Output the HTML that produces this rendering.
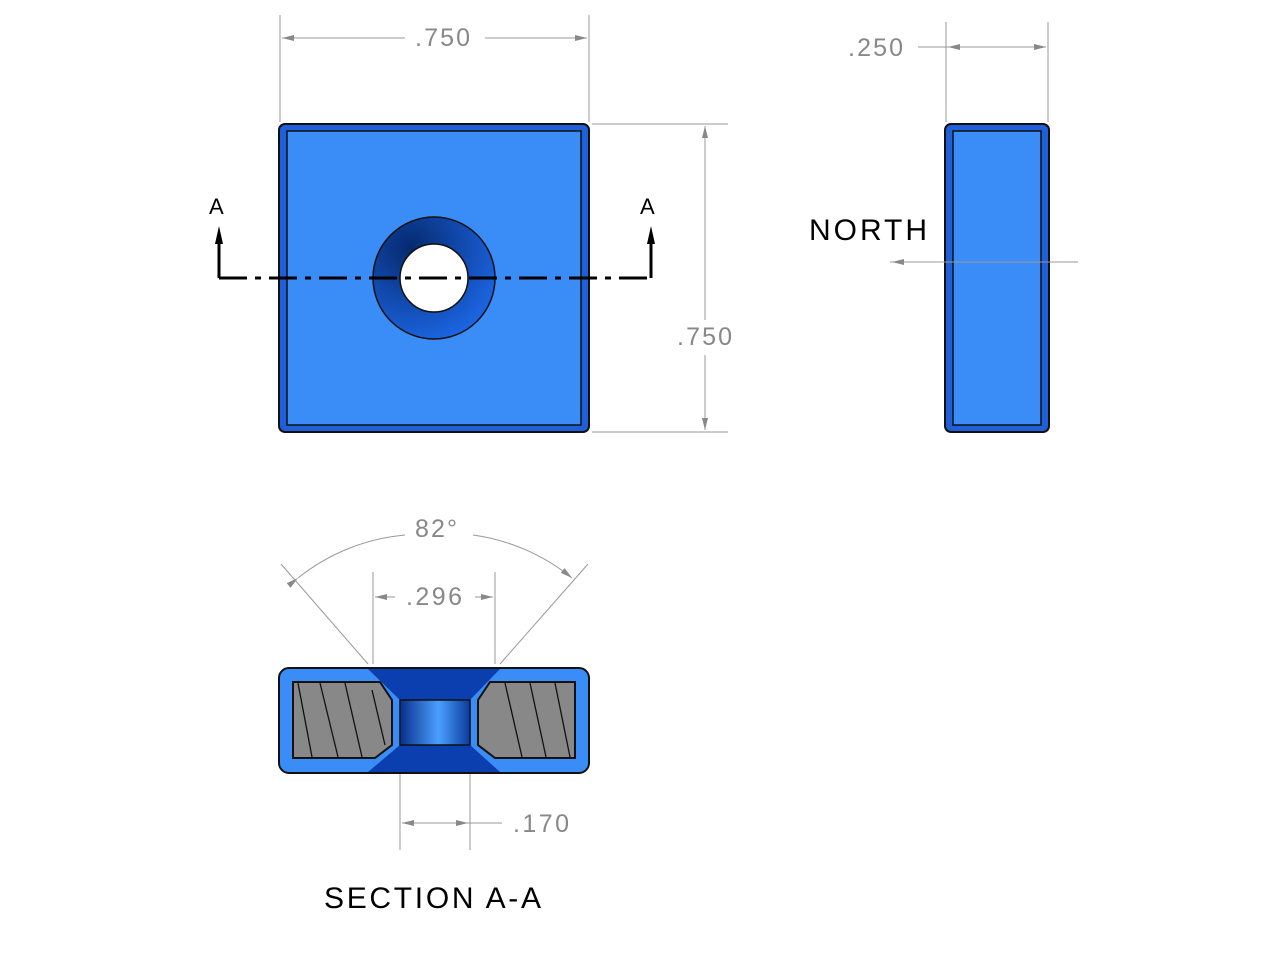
<!DOCTYPE html>
<html><head><style>body{margin:0;background:#fff}svg{display:block}text{font-family:"Liberation Sans",sans-serif}</style></head><body>
<svg width="1280" height="960" viewBox="0 0 1280 960">
<defs>
<radialGradient id="ring" cx="0.3" cy="0.25" r="0.9"><stop offset="0" stop-color="#062a70"/><stop offset="1" stop-color="#1e6cf0"/></radialGradient>
<linearGradient id="bore" x1="0" x2="1"><stop offset="0" stop-color="#0a2f8a"/><stop offset="0.55" stop-color="#4aa0ff"/><stop offset="1" stop-color="#0b3a9e"/></linearGradient>
<marker id="ar" markerWidth="12" markerHeight="6" refX="12" refY="3" orient="auto"><path d="M0,0 L12,3 L0,6z" fill="#888"/></marker>
</defs>
<g stroke="#999" stroke-width="1" fill="none">
<line x1="280" y1="15" x2="280" y2="122"/><line x1="589" y1="15" x2="589" y2="122"/>
<line x1="405" y1="38" x2="282" y2="38" marker-end="url(#ar)"/>
<line x1="485" y1="38" x2="587" y2="38" marker-end="url(#ar)"/>
<line x1="592" y1="124" x2="728" y2="124"/><line x1="592" y1="432" x2="728" y2="432"/>
<line x1="705" y1="320" x2="705" y2="126" marker-end="url(#ar)"/>
<line x1="705" y1="355" x2="705" y2="430" marker-end="url(#ar)"/>
<line x1="946" y1="22" x2="946" y2="122"/><line x1="1048" y1="22" x2="1048" y2="122"/>
<line x1="918" y1="47" x2="1046" y2="47" marker-end="url(#ar)"/>
<line x1="1000" y1="47" x2="948" y2="47" marker-end="url(#ar)"/>
<path d="M298,578 A200,200 0 0 1 405,535" marker-start="url(#ar)"/>
<path d="M473,535 A200,200 0 0 1 572,578" marker-end="url(#ar)"/>
<line x1="281" y1="564" x2="368" y2="664"/><line x1="588" y1="564" x2="500" y2="664"/>
<line x1="373" y1="572" x2="373" y2="664"/><line x1="495" y1="572" x2="495" y2="664"/>
<line x1="395" y1="597" x2="375" y2="597" marker-end="url(#ar)"/>
<line x1="475" y1="597" x2="493" y2="597" marker-end="url(#ar)"/>
<line x1="400" y1="750" x2="400" y2="850"/><line x1="470" y1="750" x2="470" y2="850"/>
<line x1="440" y1="823" x2="402" y2="823" marker-end="url(#ar)"/>
<line x1="430" y1="823" x2="468" y2="823" marker-end="url(#ar)"/>
<line x1="468" y1="823" x2="502" y2="823"/>
</g>
<g fill="#888" font-size="25"><text x="415" y="46" textLength="55">.750</text><text x="677" y="345" textLength="55">.750</text><text x="848" y="56" textLength="55">.250</text><text x="415" y="537" textLength="42">82°</text><text x="406" y="605" textLength="56">.296</text><text x="513" y="832" textLength="56">.170</text></g>
<!-- front -->
<rect x="279" y="124" width="310" height="308" rx="6" fill="#1f5fd8" stroke="#111" stroke-width="2"/>
<rect x="287" y="131" width="294" height="294" fill="#3a8cf6" stroke="#111" stroke-width="1.5"/>
<circle cx="434" cy="278" r="61" fill="url(#ring)" stroke="#111" stroke-width="1.5"/>
<circle cx="434" cy="278" r="34" fill="#fff" stroke="#111" stroke-width="1.5"/>
<g stroke="#000" stroke-width="3" fill="none">
<line x1="219" y1="278" x2="652" y2="278" stroke-dasharray="28,8,6,8"/>
<line x1="219" y1="278" x2="219" y2="240"/><line x1="651" y1="278" x2="651" y2="240"/>
</g>
<path d="M215,244 L219,226 L223,244z M647,244 L651,226 L655,244z"/>
<g font-size="22"><text x="209" y="214">A</text><text x="640" y="214">A</text></g>
<!-- side -->
<rect x="945" y="124" width="104" height="308" rx="6" fill="#1f5fd8" stroke="#111" stroke-width="2"/>
<rect x="953" y="131" width="88" height="294" fill="#3a8cf6" stroke="#111" stroke-width="1.5"/>
<g stroke="#999" stroke-width="1" fill="none">
<line x1="890" y1="262" x2="1078" y2="262"/>
<line x1="930" y1="262" x2="892" y2="262" marker-end="url(#ar)"/>
</g>
<text x="809" y="240" font-size="30" textLength="118">NORTH</text>
<!-- section -->
<rect x="279" y="668" width="310" height="105" rx="10" fill="#3a8cf6" stroke="#111" stroke-width="2"/>
<path d="M368,669 L500,669 L470,700 L400,700z M400,745 L470,745 L500,772 L368,772z" fill="#0b3fb0"/>
<rect x="400" y="700" width="70" height="45" fill="url(#bore)" stroke="#111" stroke-width="1.5"/>
<path d="M293,682 L380,682 L392,700 L392,745 L375,758 L293,758z" fill="#888" stroke="#111" stroke-width="2"/>
<path d="M575,682 L490,682 L478,700 L478,745 L495,758 L575,758z" fill="#888" stroke="#111" stroke-width="2"/>
<g stroke="#111" stroke-width="1.3"><line x1="298" y1="683" x2="312" y2="757"/><line x1="320" y1="683" x2="338" y2="757"/><line x1="345" y1="683" x2="362" y2="757"/><line x1="372" y1="690" x2="385" y2="745"/><line x1="505" y1="683" x2="522" y2="757"/><line x1="530" y1="683" x2="546" y2="757"/><line x1="555" y1="683" x2="570" y2="757"/></g>
<text x="324" y="908" font-size="30" textLength="217">SECTION A-A</text>
</svg>
</body></html>
